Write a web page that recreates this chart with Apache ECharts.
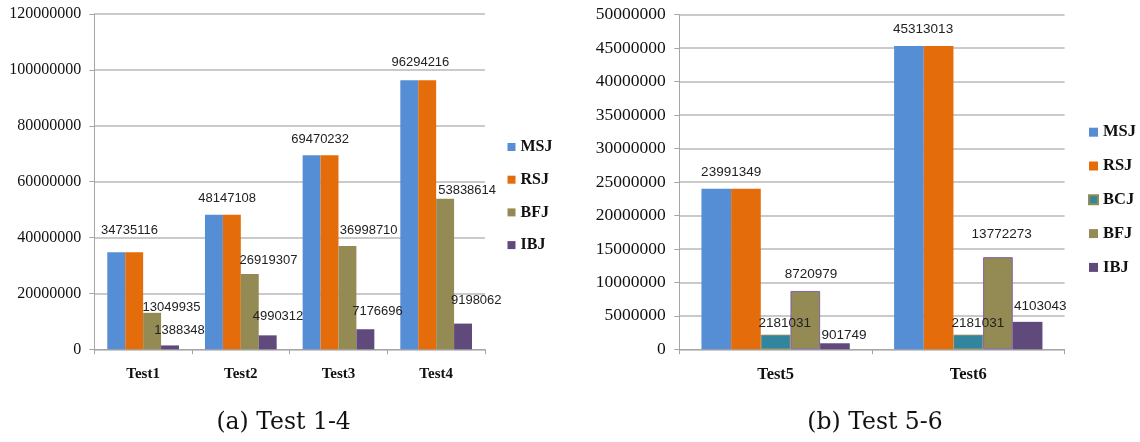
<!DOCTYPE html>
<html>
<head>
<meta charset="utf-8">
<script src="https://cdn.jsdelivr.net/npm/echarts@6/dist/echarts.min.js"></script>
<style>
html,body{margin:0;padding:0;background:#fff;}
#chart{width:1140px;height:442px;}
</style>
</head>
<body>
<div id="chart"></div>
<script>
// ---- data: chart (a) ----
const categoriesA = ['Test1', 'Test2', 'Test3', 'Test4'];
const msjA = [34735116, 48147108, 69470232, 96294216];
const rsjA = [34735116, 48147108, 69470232, 96294216];
const bfjA = [13049935, 26919307, 36998710, 53838614];
const ibjA = [1388348, 4990312, 7176696, 9198062];
const yMaxA = 120000000, yStepA = 20000000;

// ---- data: chart (b) ----
const categoriesB = ['Test5', 'Test6'];
const msjB = [23991349, 45313013];
const rsjB = [23991349, 45313013];
const bcjB = [2181031, 2181031];
const bfjB = [8720979, 13772273];
const ibjB = [901749, 4103043];
const yMaxB = 50000000, yStepB = 5000000;

const captionA = '(a) Test 1-4';
const captionB = '(b) Test 5-6';

// ---- styles ----
const C = { MSJ: '#558ED5', RSJ: '#E46C0A', BCJ: '#31859C', BFJ: '#948A54', IBJ: '#604A7B' };
const gridCol = '#B8B8B8';
const axisCol = '#A6A6A6';
const labelFont = '"Liberation Sans", sans-serif';

// label offsets (pixel nudges, as placed in the original)
const offA = {
  RSJ: [[-4.7, -22.2], [-4.7, -16.5], [-9.4, -15.9], [-6.8, -17.6]],
  BFJ: [[19.4, -5.1], [18.7, -14.1], [21.2, -15.9], [22, -8.9]],
  IBJ: [[9.5, -15.4], [10.3, -19.4], [12.1, -17.5], [13.2, -23.6]]
};
const offB = {
  RSJ: [[-14.8, -16.1], [-15.5, -16.8]],
  BCJ: [[9.2, -11.4], [9.6, -11.4]],
  BFJ: [[5.8, -16.9], [3.7, -22.8]],
  IBJ: [[9.1, -8.3], [12.7, -15.8]]
};

function mk(name, values, axisIdx, offsets, fontSize, gap, extraItem) {
  return {
    name: name,
    type: 'bar',
    xAxisIndex: axisIdx,
    yAxisIndex: axisIdx,
    barGap: '0%',
    barCategoryGap: gap,
    itemStyle: Object.assign({ color: C[name] }, extraItem || {}),
    label: {
      show: !!offsets,
      position: ['50%', 0],
      align: 'center',
      verticalAlign: 'middle',
      fontFamily: labelFont,
      fontSize: fontSize,
      color: '#222',
      formatter: p => String(p.value)
    },
    emphasis: { disabled: true },
    data: values.map((v, i) => offsets ? { value: v, label: { offset: offsets[i] } } : v)
  };
}

function xAx(gridIndex, cats, fs) {
  return {
    type: 'category', gridIndex: gridIndex, data: cats,
    axisLine: { lineStyle: { color: axisCol, width: 1 } },
    axisTick: { show: true, length: 5, lineStyle: { color: axisCol } },
    axisLabel: { fontFamily: 'Liberation Serif', fontWeight: 'bold', fontSize: fs, color: '#111', margin: 17 }
  };
}
function yAx(gridIndex, max, step, fs, margin) {
  return {
    type: 'value', gridIndex: gridIndex, min: 0, max: max, interval: step,
    axisLine: { show: true, lineStyle: { color: axisCol, width: 1 } },
    axisTick: { show: true, length: 5, lineStyle: { color: axisCol } },
    splitLine: { lineStyle: { color: gridCol, width: 1.5 } },
    axisLabel: { fontFamily: 'Liberation Serif', fontSize: fs, color: '#111', margin: margin, formatter: v => String(v) }
  };
}

const legendText = { fontFamily: 'Liberation Serif', fontWeight: 'bold', fontSize: 16, color: '#111', lineHeight: 16 };

const option = {
  animation: false,
  backgroundColor: '#fff',
  grid: [
    { left: 94.3, top: 14, width: 390.7, height: 335.3 },
    { left: 679.3, top: 14.7, width: 385.3, height: 334.6 }
  ],
  xAxis: [xAx(0, categoriesA, 15), xAx(1, categoriesB, 16.5)],
  yAxis: [yAx(0, yMaxA, yStepA, 16, 13), yAx(1, yMaxB, yStepB, 17.5, 13.6)],
  legend: [
    {
      orient: 'vertical', left: 507.5, top: 139, padding: 0, itemWidth: 8, itemHeight: 8, itemGap: 16.7,
      icon: 'rect', selectedMode: false, data: ['MSJ', 'RSJ', 'BFJ', 'IBJ'], textStyle: legendText
    },
    {
      orient: 'vertical', left: 1088, top: 123.7, padding: 0, itemWidth: 9, itemHeight: 9, itemGap: 16.8,
      icon: 'rect', selectedMode: false, data: ['MSJ', 'RSJ', 'BCJ', 'BFJ', 'IBJ'],
      textStyle: Object.assign({}, legendText, { fontSize: 16.5 })
    }
  ],
  series: [
    mk('MSJ', msjA, 0, null, 13, '26.6%'),
    mk('RSJ', rsjA, 0, offA.RSJ, 13, '26.6%'),
    mk('BFJ', bfjA, 0, offA.BFJ, 13, '26.6%'),
    mk('IBJ', ibjA, 0, offA.IBJ, 13, '26.6%'),
    mk('MSJ', msjB, 1, null, 13.5, '23%'),
    mk('RSJ', rsjB, 1, offB.RSJ, 13.5, '23%'),
    mk('BCJ', bcjB, 1, offB.BCJ, 13.5, '23%', { borderColor: '#948A54', borderWidth: 0.8 }),
    mk('BFJ', bfjB, 1, offB.BFJ, 13.5, '23%', { borderColor: '#8064A2', borderWidth: 1 }),
    mk('IBJ', ibjB, 1, offB.IBJ, 13.5, '23%')
  ],
  graphic: [
    { type: 'text', x: 283.6, y: 423, style: { text: captionA, fontFamily: 'DejaVu Serif', fontSize: 23.5, fill: '#111', align: 'center', verticalAlign: 'middle' } },
    { type: 'text', x: 875, y: 423, style: { text: captionB, fontFamily: 'DejaVu Serif', fontSize: 23.5, fill: '#111', align: 'center', verticalAlign: 'middle' } }
  ]
};

const chart = echarts.init(document.getElementById('chart'), null, { renderer: 'canvas' });
chart.setOption(option);
</script>
</body>
</html>
